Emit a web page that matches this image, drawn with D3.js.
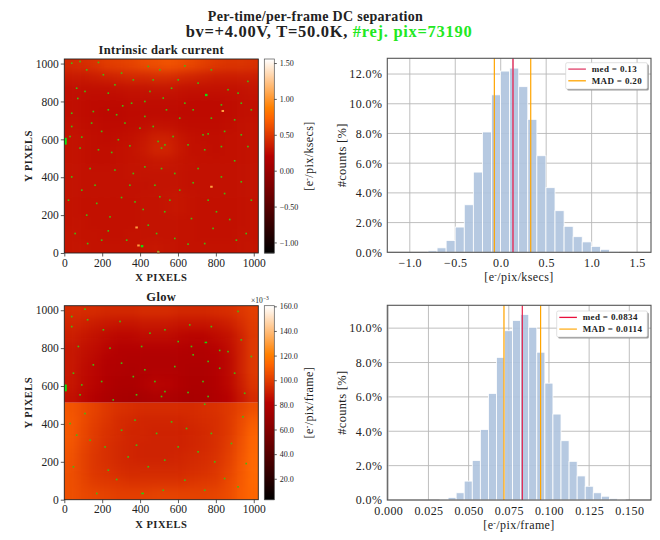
<!DOCTYPE html>
<html>
<head>
<meta charset="utf-8">
<script src="https://cdn.jsdelivr.net/npm/d3@7"></script>
<style>
  body { margin: 0; background: #fff; }
  text { font-family: "Liberation Serif", serif; fill: #222; }
</style>
</head>
<body>
<div id="chart"></div>
<script>
// dark current map, 16x16 blocks, top row first.
// per-pixel noise is not reproduced, blocks hold the colour seen at that spot
var darkRows = [
  [0.42,0.44,0.47,0.52,0.54,0.56,0.60,0.62,0.64,0.62,0.58,0.54,0.50,0.48,0.48,0.46],
  [0.33,0.33,0.35,0.37,0.39,0.41,0.41,0.43,0.43,0.41,0.39,0.37,0.35,0.35,0.35,0.35],
  [0.28,0.28,0.28,0.28,0.29,0.30,0.30,0.31,0.31,0.30,0.29,0.29,0.29,0.29,0.29,0.31],
  [0.28,0.27,0.26,0.26,0.26,0.27,0.27,0.27,0.27,0.27,0.26,0.26,0.26,0.27,0.28,0.29],
  [0.28,0.27,0.26,0.25,0.25,0.26,0.26,0.26,0.26,0.26,0.26,0.26,0.26,0.27,0.28,0.29],
  [0.29,0.28,0.27,0.26,0.26,0.27,0.28,0.30,0.29,0.28,0.27,0.27,0.27,0.28,0.29,0.30],
  [0.30,0.29,0.28,0.27,0.28,0.29,0.32,0.37,0.37,0.32,0.29,0.28,0.28,0.29,0.29,0.30],
  [0.30,0.29,0.28,0.28,0.29,0.30,0.33,0.39,0.39,0.33,0.29,0.29,0.28,0.29,0.29,0.30],
  [0.30,0.29,0.28,0.28,0.29,0.30,0.31,0.32,0.32,0.31,0.30,0.29,0.29,0.29,0.29,0.30],
  [0.30,0.29,0.29,0.29,0.29,0.30,0.30,0.30,0.30,0.30,0.29,0.29,0.29,0.29,0.29,0.30],
  [0.30,0.29,0.29,0.29,0.29,0.29,0.29,0.30,0.30,0.30,0.29,0.29,0.29,0.29,0.29,0.30],
  [0.30,0.29,0.29,0.29,0.29,0.29,0.30,0.30,0.31,0.32,0.30,0.29,0.29,0.29,0.29,0.30],
  [0.30,0.29,0.29,0.29,0.29,0.29,0.30,0.30,0.31,0.32,0.30,0.29,0.29,0.29,0.29,0.30],
  [0.30,0.30,0.29,0.29,0.29,0.29,0.30,0.30,0.30,0.30,0.30,0.29,0.29,0.29,0.29,0.30],
  [0.31,0.30,0.30,0.29,0.29,0.30,0.30,0.30,0.30,0.30,0.30,0.29,0.29,0.29,0.30,0.30],
  [0.31,0.31,0.30,0.30,0.30,0.30,0.31,0.32,0.31,0.30,0.30,0.30,0.30,0.30,0.30,0.31]
]
// glow map in 1e-3 e-/pix/frame, same layout, the step sits between rows 8 and 9
var glowRows = [
  [ 95, 95, 95, 94, 94, 94, 95, 95, 95, 94, 94, 94, 95, 96, 98,101],
  [ 93, 92, 90, 89, 88, 88, 89, 89, 89, 88, 88, 88, 89, 91, 95,100],
  [ 91, 89, 87, 85, 84, 84, 85, 85, 85, 84, 83, 83, 85, 87, 92, 99],
  [ 89, 87, 85, 83, 81, 81, 81, 81, 81, 81, 80, 80, 82, 85, 91, 99],
  [ 89, 86, 84, 81, 80, 79, 79, 79, 79, 79, 79, 79, 81, 84, 91, 99],
  [ 89, 85, 83, 80, 79, 78, 79, 80, 80, 79, 78, 78, 80, 84, 91, 99],
  [ 89, 85, 83, 80, 78, 78, 80, 83, 82, 80, 78, 78, 80, 84, 90, 98],
  [ 87, 84, 81, 78, 76, 75, 76, 78, 78, 77, 76, 77, 79, 82, 88, 95],
  [108,105,102, 99, 97, 96, 95, 95, 95, 95, 95, 96, 97, 99,102,106],
  [109,105,101, 98, 95, 94, 93, 93, 93, 93, 94, 95, 96, 99,104,110],
  [109,104,100, 97, 95, 93, 93, 92, 92, 92, 93, 94, 96, 99,105,112],
  [108,103, 99, 96, 94, 93, 92, 92, 92, 92, 93, 94, 96,100,106,113],
  [107,102, 98, 96, 94, 93, 92, 92, 92, 93, 94, 95, 97,101,107,114],
  [106,102, 98, 97, 95, 94, 94, 94, 94, 94, 95, 96, 98,102,108,114],
  [106,103,100, 99, 98, 97, 97, 97, 97, 97, 98, 99,100,104,109,114],
  [106,104,103,102,101,101,101,102,102,102,102,102,103,105,110,113]
]

// rejected pixels picked out of the zoomed picture, [x, y] in pixels
var darkRejected = [[246,535],[67,820],[304,781],[228,760],[149,751],[632,992],[114,971],[35,1006],[79,1015],[176,1010],[439,989],[500,971],[913,848],[930,795],[562,874],[421,804],[518,822],[351,795],[263,892],[105,857],[61,874],[676,760],[825,786],[395,663],[465,672],[570,619],[649,575],[509,558],[491,593],[527,575],[79,558],[88,616],[26,619],[342,570],[193,646],[272,734],[728,628],[755,633],[842,646],[930,628],[35,742],[965,910],[772,971],[202,945],[298,954],[360,918],[465,918],[597,918],[702,901],[860,866],[448,857],[228,848],[140,690],[281,602],[421,725],[605,716],[772,716],[895,707],[983,760],[35,672],[176,549],[737,549],[825,566],[965,566],[632,795],[535,760],[316,690],[491,12],[132,450],[676,375],[298,297],[53,107],[119,54],[228,121],[360,424],[474,362],[553,283],[895,491],[930,380],[237,195],[412,234],[526,222],[667,186],[781,134],[869,181],[737,54],[649,51],[579,81],[325,72],[509,450],[825,406],[88,336],[167,266],[18,283],[263,442],[421,459],[605,336],[755,283],[983,283],[842,318],[342,362],[439,151],[158,362],[35,406],[114,204],[956,107],[500,301],[702,450],[579,424],[193,72],[369,274],[483,107],[799,222],[904,72]]
var glowRejected = [[816,792],[676,769],[667,813],[930,848],[35,918],[119,954],[290,945],[70,813],[237,804],[88,610],[360,654],[509,549],[527,575],[649,570],[728,628],[816,698],[404,813],[527,901],[658,927],[913,998],[105,1010],[35,971],[202,901],[448,883],[597,839],[772,918],[860,786],[983,760],[149,716],[298,725],[421,690],[579,707],[755,734],[895,672],[79,558],[254,531],[377,558],[755,549],[948,566],[193,628],[44,672],[474,628],[772,354],[483,354],[61,345],[377,292],[333,230],[272,111],[211,283],[641,380],[737,508],[562,415],[878,301],[939,442],[105,459],[167,37],[44,178],[526,213],[439,178],[632,107],[737,54],[842,116],[956,195],[132,318],[298,371],[702,257],[790,204],[228,160],[369,424],[913,72],[518,54],[26,406],[597,283]]
// the few clear defects: [x, y, height in pixels]
var darkDefects = [[5,590,36],[748,834,12],[409,36,12]]
var glowDefects = [[5,590,36],[412,33,8],[746,830,8]]
var darkHot = [[830,755],[770,355],[375,140],[385,45],[490,8]]

// histograms, percent of counts per bin
var darkBinStart = -0.8
var darkBinWidth = 0.0998
var darkCounts = [0.1,0.3,0.8,1.7,3.2,5.4,8.1,10.6,12.2,12.4,11.15,8.95,6.5,4.35,2.8,1.75,1.05,0.7,0.4,0.2,0.07]
var glowBinStart = 0.0322
var glowBinWidth = 0.00502
var glowCounts = [0.05,0.15,0.42,1.1,2.3,4.1,6.2,8.3,9.85,10.45,10.8,10.05,8.6,6.8,5.0,3.45,2.25,1.4,0.8,0.42,0.22,0.09,0.04]

var pixelTicks = [0,200,400,600,800,1000]
var darkBarTicks = [-1,-0.5,0,0.5,1,1.5]
var glowBarTicks = [20,40,60,80,100,120,140,160]
var darkHistTicks = [-1,-0.5,0,0.5,1,1.5]
var glowHistTicks = [0,0.025,0.05,0.075,0.1,0.125,0.15]
var darkPctTicks = [0,2,4,6,8,10,12]
var glowPctTicks = [0,2,4,6,8,10]

var width = 660, height = 540
var svg = d3.select("#chart").append("svg")
  .attr("width", width).attr("height", height)
  .style("display", "block")

var defs = svg.append("defs")
defs.append("filter").attr("id", "soft")
  .attr("color-interpolation-filters", "sRGB")
  .attr("x", "-10%").attr("y", "-10%").attr("width", "120%").attr("height", "120%")
  .append("feGaussianBlur").attr("stdDeviation", 4)

// same ramp as matplotlib gist_heat
function gistHeat(t) {
  t = Math.max(0, Math.min(1, t))
  var r = Math.min(1, t / 0.7), g = Math.max(0, 2 * t - 1), b = Math.max(0, 4 * t - 3)
  return d3.rgb(r * 255, g * 255, b * 255).toString()
}

function minus(s) { return String(s).replace("-", "\u2212") }

// "[e-/pix/xxx]" with the raised minus
function unitLabel(sel, tail) {
  sel.append("tspan").text("[e")
  sel.append("tspan").attr("dy", -3.5).attr("font-size", "0.65em").text("-")
  sel.append("tspan").attr("dy", 3.5).text("/pix/" + tail + "]")
}

function styleAxis(a, size, spacing) {
  a.selectAll("text").attr("font-size", size).attr("letter-spacing", spacing || 0)
  a.selectAll("line").attr("stroke", "#333").attr("stroke-width", 0.8)
  a.select(".domain").remove()
}

var clipCount = 0

function heatPanel(o) {
  var g = svg.append("g")
  var x = d3.scaleLinear().domain([0, 1024]).range([o.left, o.left + 194])
  var y = d3.scaleLinear().domain([0, 1024]).range([o.top + 194, o.top])
  var color = d3.scaleSequential(gistHeat).domain(o.range)
  var block = 1024 / o.rows.length
  var pad = 15 // outer blocks run past the frame so the blur has no pale rim

  // each section is smoothed on its own so a real step in the map stays sharp
  o.sections.forEach(function(s) {
    var id = "clip" + (clipCount++)
    var yTop = y(1024 - s[0] * block), yBottom = y(1024 - s[1] * block)
    defs.append("clipPath").attr("id", id).append("rect")
      .attr("x", o.left).attr("y", yTop).attr("width", 194).attr("height", yBottom - yTop)
    var sec = g.append("g").attr("clip-path", "url(#" + id + ")")
      .append("g").attr("filter", "url(#soft)")
    d3.range(s[0], s[1]).forEach(function(r) {
      var cells = sec.selectAll(null).data(o.rows[r]).enter().append("rect")
      var top = r == s[0] ? pad : 0, bottom = r == s[1] - 1 ? pad : 0
      cells
        .attr("x", function(d, c) { return x(c * block) - (c == 0 ? pad : 0) })
        .attr("y", y(1024 - r * block) - top)
        .attr("width", function(d, c) {
          return x(block) - x(0) + 0.5 + (c == 0 || c == o.rows[r].length - 1 ? pad : 0)
        })
        .attr("height", y(0) - y(block) + 0.5 + top + bottom)
        .attr("fill", function(d) { return color(d) })
    })
  })

  g.selectAll(null).data(o.rejected).enter().append("rect")
    .attr("x", function(d) { return x(d[0]) })
    .attr("y", function(d) { return y(d[1]) })
    .attr("width", 1.6).attr("height", 1.6)
    .attr("fill", "#3fc010")

  g.selectAll(null).data(o.hot).enter().append("rect")
    .attr("x", function(d) { return x(d[0]) })
    .attr("y", function(d) { return y(d[1]) })
    .attr("width", 2.5).attr("height", 2)
    .attr("fill", "#ffa040")

  g.selectAll(null).data(o.defects).enter().append("rect")
    .attr("x", function(d) { return x(d[0]) - 1 })
    .attr("y", function(d) { return y(d[1]) - (y(0) - y(d[2])) / 2 })
    .attr("width", 2.5)
    .attr("height", function(d) { return y(0) - y(d[2]) })
    .attr("fill", "#10e010")

  g.append("rect").attr("x", o.left).attr("y", o.top)
    .attr("width", 194).attr("height", 194)
    .attr("fill", "none").attr("stroke", "#222").attr("stroke-width", 0.9)

  var ax = g.append("g").attr("transform", "translate(0," + (o.top + 194) + ")")
    .call(d3.axisBottom(x).tickValues(pixelTicks).tickSize(3.5).tickPadding(2).tickFormat(d3.format("d")))
  styleAxis(ax, 11.5)
  var ay = g.append("g").attr("transform", "translate(" + o.left + ",0)")
    .call(d3.axisLeft(y).tickValues(pixelTicks).tickSize(3.5).tickPadding(2).tickFormat(d3.format("d")))
  styleAxis(ay, 11.5)

  g.append("text").attr("x", o.left + 97).attr("y", o.top + 222)
    .attr("text-anchor", "middle").attr("font-size", 10.5)
    .attr("font-weight", "bold").attr("letter-spacing", 0.5).text("X PIXELS")
  g.append("text").attr("transform", "translate(" + 32 + "," + (o.top + 97) + ")rotate(-90)")
    .attr("text-anchor", "middle").attr("font-size", 10.5)
    .attr("font-weight", "bold").attr("letter-spacing", 0.5).text("Y PIXELS")
  g.append("text").attr("x", o.left + 97).attr("y", o.top - 5)
    .attr("text-anchor", "middle").attr("font-size", 12.5)
    .attr("font-weight", "bold").attr("letter-spacing", 0.35).text(o.title)

  // colorbar
  var cb = d3.scaleLinear().domain(o.range).range([o.top + 194, o.top])
  var steps = d3.range(194)
  g.selectAll(null).data(steps).enter().append("rect")
    .attr("x", 264.3).attr("width", 10)
    .attr("y", function(d) { return o.top + 193 - d })
    .attr("height", 1.4)
    .attr("fill", function(d) { return color(cb.invert(o.top + 193.5 - d)) })
  g.append("rect").attr("x", 264.3).attr("y", o.top).attr("width", 10).attr("height", 194)
    .attr("fill", "none").attr("stroke", "#555").attr("stroke-width", 0.7)
  var ac = g.append("g").attr("transform", "translate(274.3,0)")
    .call(d3.axisRight(cb).tickValues(o.barTicks).tickSize(2.5).tickPadding(3)
      .tickFormat(function(d) { return minus(d.toFixed(o.barDigits)) }))
  styleAxis(ac, 8)

  g.append("text").attr("transform", "translate(313," + (o.top + 97) + ")rotate(-90)")
    .attr("text-anchor", "middle").attr("font-size", 12).attr("letter-spacing", 0.4)
    .call(unitLabel, o.unit)
}

function histPanel(o) {
  var g = svg.append("g")
  var x = d3.scaleLinear().domain(o.xDomain).range([387.3, 651])
  var y = d3.scaleLinear().domain(o.yDomain).range([o.bottom, o.top])

  g.append("g").selectAll("line").data(o.xTicks).enter().append("line")
    .attr("x1", function(d) { return x(d) }).attr("x2", function(d) { return x(d) })
    .attr("y1", o.top).attr("y2", o.bottom)
    .attr("stroke", "#b8b8b8").attr("stroke-width", 0.9)
  g.append("g").selectAll("line").data(o.yTicks).enter().append("line")
    .attr("x1", 387.3).attr("x2", 651)
    .attr("y1", function(d) { return y(d) }).attr("y2", function(d) { return y(d) })
    .attr("stroke", "#b8b8b8").attr("stroke-width", 0.9)

  g.selectAll(null).data(o.counts).enter().append("rect")
    .attr("x", function(d, i) { return x(o.binStart + i * o.binWidth) })
    .attr("y", function(d) { return y(d) })
    .attr("width", x(o.binWidth) - x(0))
    .attr("height", function(d) { return y(0) - y(d) })
    .attr("fill", "#b0c4de").attr("fill-opacity", 0.92)
    .attr("stroke", "#fff").attr("stroke-width", 0.8)

  o.lines.forEach(function(l) {
    g.append("line").attr("x1", x(l.v)).attr("x2", x(l.v))
      .attr("y1", o.top).attr("y2", o.bottom)
      .attr("stroke", l.c).attr("stroke-width", l.w)
  })

  g.append("rect").attr("x", 387.3).attr("y", o.top)
    .attr("width", 651 - 387.3).attr("height", o.bottom - o.top)
    .attr("fill", "none").attr("stroke", "#555").attr("stroke-width", 1.1)

  var ax = g.append("g").attr("transform", "translate(0," + o.bottom + ")")
    .call(d3.axisBottom(x).tickValues(o.xTicks).tickSize(0).tickPadding(6)
      .tickFormat(function(d) { return minus(d.toFixed(o.xDigits)) }))
  styleAxis(ax, 12, 0.4)
  var ay = g.append("g").attr("transform", "translate(387.3,0)")
    .call(d3.axisLeft(y).tickValues(o.yTicks).tickSize(0).tickPadding(5)
      .tickFormat(function(d) { return d.toFixed(1) + "%" }))
  styleAxis(ay, 12, 0.4)

  g.append("text").attr("x", 519).attr("y", o.bottom + 29)
    .attr("text-anchor", "middle").attr("font-size", 12).attr("letter-spacing", 0.4)
    .call(unitLabel, o.unit)
  g.append("text").attr("transform", "translate(346," + ((o.top + o.bottom) / 2) + ")rotate(-90)")
    .attr("text-anchor", "middle").attr("font-size", 12.5).attr("letter-spacing", 0.3).text("#counts [%]")

  // legend
  var lg = o.legend
  g.append("rect").attr("x", lg.x + 1.5).attr("y", lg.y + 1.5).attr("width", lg.w).attr("height", lg.h)
    .attr("rx", 1.5).attr("fill", "#999")
  g.append("rect").attr("x", lg.x).attr("y", lg.y).attr("width", lg.w).attr("height", lg.h)
    .attr("rx", 1.5).attr("fill", "#fff").attr("stroke", "#ccc").attr("stroke-width", 0.6)
  lg.items.forEach(function(it, i) {
    var ly = lg.y + 6.4 + i * 11.7
    g.append("line").attr("x1", lg.x + 2.6).attr("x2", lg.x + 20.2)
      .attr("y1", ly).attr("y2", ly)
      .attr("stroke", it.c).attr("stroke-width", 1.3)
    g.append("text").attr("x", lg.x + 26).attr("y", ly + 3)
      .attr("font-size", 9).attr("font-weight", "bold").attr("letter-spacing", 0.35).text(it.t)
  })
}

heatPanel({ left: 64.3, top: 59, rows: darkRows, sections: [[0, 16]], range: [-1.147, 1.556], title: "Intrinsic dark current",
  rejected: darkRejected, defects: darkDefects, hot: darkHot, barTicks: darkBarTicks, barDigits: 2, unit: "ksecs" })
heatPanel({ left: 64.3, top: 305.7, rows: glowRows, sections: [[0, 8], [8, 16]], range: [3, 160.5], title: "Glow",
  rejected: glowRejected, defects: glowDefects, hot: [], barTicks: glowBarTicks, barDigits: 1, unit: "frame" })

svg.append("text").attr("x", 251).attr("y", 303).attr("font-size", 7.5).text("\u00d710")
svg.append("text").attr("x", 263).attr("y", 300).attr("font-size", 5.5).text("\u22123")

histPanel({ top: 58.3, bottom: 252.3, xDomain: [-1.2475, 1.653], yDomain: [0, 13.06],
  counts: darkCounts, binStart: darkBinStart, binWidth: darkBinWidth,
  xTicks: darkHistTicks, yTicks: darkPctTicks, xDigits: 1, unit: "ksecs",
  lines: [{ v: -0.07, c: "#ffa500", w: 1.2 }, { v: 0.33, c: "#ffa500", w: 1.2 }, { v: 0.135, c: "#e0406a", w: 1.6 }],
  legend: { x: 565.7, y: 62.7, w: 81.6, h: 26.3,
    items: [{ c: "#e0406a", t: "med = 0.13" }, { c: "#ffa500", t: "MAD = 0.20" }] } })

histPanel({ top: 305.3, bottom: 500, xDomain: [-0.0006, 0.1635], yDomain: [0, 11.33],
  counts: glowCounts, binStart: glowBinStart, binWidth: glowBinWidth,
  xTicks: glowHistTicks, yTicks: glowPctTicks, xDigits: 3, unit: "frame",
  lines: [{ v: 0.072, c: "#ffb020", w: 1.4 }, { v: 0.0948, c: "#ffa500", w: 1.2 }, { v: 0.0834, c: "#e8103c", w: 1.1 }],
  legend: { x: 556.7, y: 311, w: 90.6, h: 26,
    items: [{ c: "#e8103c", t: "med = 0.0834" }, { c: "#ffb020", t: "MAD = 0.0114" }] } })

// suptitle
svg.append("text").attr("x", 315.5).attr("y", 21)
  .attr("text-anchor", "middle").attr("font-size", 14).attr("font-weight", "bold")
  .attr("letter-spacing", 0.3).text("Per-time/per-frame DC separation")
var sub = svg.append("text").attr("x", 329).attr("y", 37)
  .attr("text-anchor", "middle").attr("font-size", 16.5).attr("font-weight", "bold")
  .attr("letter-spacing", 0.7)
sub.append("tspan").text("bv=+4.00V, T=50.0K, ")
sub.append("tspan").style("fill", "#22e822").text("#rej. pix=73190")
</script>
</body>
</html>
